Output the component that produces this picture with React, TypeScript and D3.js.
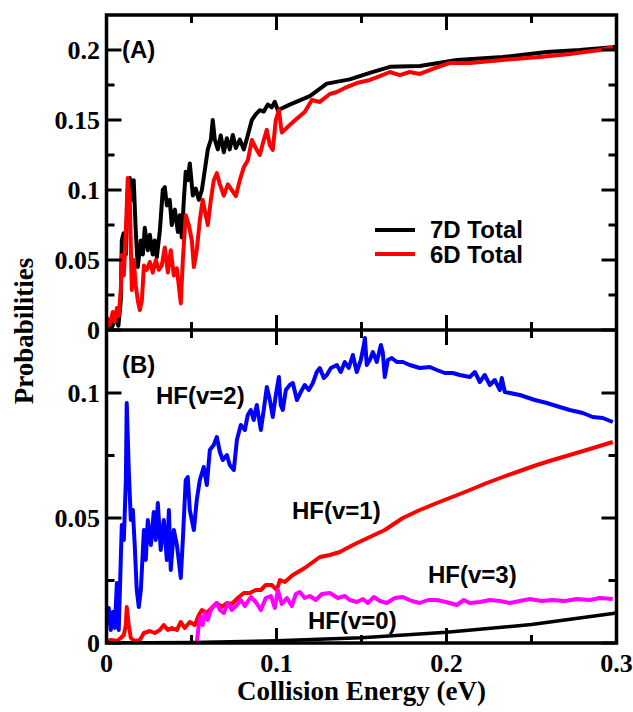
import React from "react";
import * as d3 from "d3";

// ---------- data (E in eV, probability) ----------
const total7D: [number, number][] = [
  [0.0002, 0.005], [0.003, 0.0015], [0.0055, 0.0086], [0.007, 0.003], [0.0084, 0.021], [0.009, 0.064],
  [0.010, 0.069], [0.0114, 0.054], [0.0125, 0.100], [0.0137, 0.1086], [0.0149, 0.093], [0.016, 0.107],
  [0.0172, 0.071], [0.0184, 0.045], [0.0202, 0.064], [0.0214, 0.054], [0.0225, 0.073], [0.0243, 0.057],
  [0.0255, 0.068], [0.0272, 0.054], [0.0284, 0.064], [0.0296, 0.052], [0.0314, 0.071], [0.0331, 0.100],
  [0.0343, 0.102], [0.0355, 0.089], [0.0372, 0.093], [0.0384, 0.075], [0.0402, 0.086], [0.042, 0.070],
  [0.0431, 0.082], [0.0443, 0.066], [0.0455, 0.093], [0.0466, 0.113], [0.0478, 0.107], [0.049, 0.119],
  [0.0508, 0.096], [0.0525, 0.101], [0.0543, 0.093], [0.0561, 0.100], [0.0578, 0.114], [0.0596, 0.129],
  [0.0614, 0.136], [0.0625, 0.150], [0.0637, 0.136], [0.0655, 0.129], [0.0672, 0.139], [0.069, 0.127],
  [0.0708, 0.137], [0.0725, 0.129], [0.0743, 0.1393], [0.0761, 0.130], [0.0784, 0.136], [0.0808, 0.129],
  [0.0831, 0.139], [0.0855, 0.150], [0.0878, 0.154], [0.0902, 0.157], [0.0925, 0.156], [0.0949, 0.161],
  [0.0972, 0.159], [0.099, 0.163], [0.1008, 0.157], [0.1078, 0.161], [0.1196, 0.167], [0.1296, 0.176],
  [0.1431, 0.179], [0.1549, 0.1836], [0.1667, 0.188], [0.1843, 0.1886], [0.2061, 0.1929], [0.2331, 0.195],
  [0.259, 0.1986], [0.2784, 0.200], [0.2978, 0.202], [0.3, 0.2025],
];

const total6D: [number, number][] = [
  [0.0002, 0.009], [0.0019, 0.0036], [0.0037, 0.0129], [0.0049, 0.0057], [0.0061, 0.0157], [0.0072, 0.01],
  [0.0084, 0.0286], [0.009, 0.0536], [0.0102, 0.039], [0.0114, 0.071], [0.0125, 0.1086], [0.0137, 0.093],
  [0.0149, 0.0286], [0.016, 0.05], [0.0172, 0.032], [0.0184, 0.021], [0.0196, 0.0143], [0.0208, 0.021],
  [0.022, 0.046], [0.0237, 0.043], [0.0255, 0.0486], [0.0272, 0.041], [0.029, 0.05], [0.0308, 0.043],
  [0.0325, 0.046], [0.0343, 0.059], [0.0361, 0.041], [0.0378, 0.057], [0.0396, 0.039], [0.0414, 0.044],
  [0.0425, 0.032], [0.0437, 0.019], [0.0449, 0.05], [0.0466, 0.082], [0.0484, 0.075], [0.0502, 0.064],
  [0.0514, 0.045], [0.0531, 0.057], [0.0549, 0.0786], [0.0566, 0.093], [0.0584, 0.082], [0.0596, 0.075],
  [0.0614, 0.093], [0.0631, 0.107], [0.0649, 0.112], [0.0667, 0.104], [0.069, 0.096], [0.0714, 0.104],
  [0.0737, 0.1], [0.0761, 0.0957], [0.0784, 0.107], [0.0808, 0.1164], [0.0831, 0.121], [0.0855, 0.1357],
  [0.0878, 0.13], [0.0902, 0.125], [0.0925, 0.1357], [0.0943, 0.143], [0.0961, 0.132], [0.0978, 0.1286],
  [0.0996, 0.15], [0.1014, 0.157], [0.1031, 0.141], [0.1078, 0.1464], [0.112, 0.151], [0.1166, 0.1557],
  [0.1208, 0.1643], [0.1255, 0.1629], [0.1314, 0.1686], [0.1355, 0.17], [0.1402, 0.1729], [0.1472, 0.1764],
  [0.1549, 0.1786], [0.1608, 0.1814], [0.1667, 0.1843], [0.1725, 0.1821], [0.1784, 0.1843], [0.1843, 0.1829],
  [0.1931, 0.1871], [0.2019, 0.1907], [0.2137, 0.1907], [0.2331, 0.1929], [0.2549, 0.195], [0.2725, 0.1971],
  [0.2902, 0.200], [0.2978, 0.202],
];

const hfV2: [number, number][] = [
  [0.0002, 0.0072], [0.0013, 0.014], [0.0025, 0.0052], [0.0037, 0.0124], [0.0049, 0.006], [0.0061, 0.024],
  [0.0072, 0.0052], [0.0084, 0.0332], [0.009, 0.0472], [0.0102, 0.0412], [0.0114, 0.0652], [0.0119, 0.096],
  [0.0131, 0.0692], [0.0143, 0.0492], [0.0155, 0.0532], [0.0166, 0.0392], [0.0178, 0.0212], [0.019, 0.0144],
  [0.0202, 0.0212], [0.022, 0.0452], [0.0231, 0.0332], [0.0243, 0.0492], [0.0261, 0.0392], [0.0278, 0.0524],
  [0.029, 0.0412], [0.0302, 0.056], [0.0319, 0.0372], [0.0337, 0.0492], [0.0355, 0.0332], [0.0367, 0.0532],
  [0.0378, 0.0292], [0.0396, 0.0452], [0.0414, 0.0392], [0.0425, 0.0332], [0.0437, 0.026], [0.0449, 0.0412],
  [0.0466, 0.0652], [0.0478, 0.0664], [0.049, 0.0532], [0.0502, 0.0492], [0.0514, 0.0452], [0.0531, 0.0572],
  [0.0549, 0.0652], [0.0572, 0.0704], [0.059, 0.0632], [0.0608, 0.0772], [0.0631, 0.0792], [0.0649, 0.0824],
  [0.0667, 0.0764], [0.0684, 0.0732], [0.0708, 0.0752], [0.0725, 0.0712], [0.0749, 0.0692], [0.0767, 0.0812],
  [0.079, 0.0872], [0.0814, 0.0852], [0.0831, 0.0912], [0.0849, 0.0932], [0.0866, 0.0892], [0.0884, 0.0952],
  [0.0908, 0.0852], [0.0925, 0.0932], [0.0943, 0.1024], [0.0961, 0.0972], [0.0978, 0.0904], [0.0996, 0.0992],
  [0.1014, 0.1064], [0.1025, 0.0952], [0.1037, 0.0932], [0.1055, 0.1012], [0.1078, 0.1032], [0.1096, 0.104],
  [0.112, 0.0972], [0.1143, 0.1004], [0.1166, 0.1032], [0.119, 0.1012], [0.1214, 0.104], [0.1237, 0.1084],
  [0.1255, 0.11], [0.1278, 0.106], [0.1296, 0.1072], [0.132, 0.11], [0.1355, 0.1112], [0.1378, 0.1084],
  [0.1402, 0.1124], [0.1425, 0.11], [0.1449, 0.1152], [0.1472, 0.1084], [0.1496, 0.1132], [0.1514, 0.1192],
  [0.152, 0.122], [0.1531, 0.1112], [0.1549, 0.1132], [0.1567, 0.1164], [0.159, 0.1124], [0.1614, 0.1192],
  [0.1625, 0.1164], [0.1637, 0.1064], [0.1655, 0.1132], [0.1678, 0.114], [0.1708, 0.1124], [0.1743, 0.1124],
  [0.1784, 0.1112], [0.1843, 0.11], [0.1902, 0.1104], [0.1943, 0.1092], [0.199, 0.108], [0.2037, 0.108],
  [0.2078, 0.1072], [0.2137, 0.1064], [0.2167, 0.1084], [0.2196, 0.1044], [0.2225, 0.1072], [0.2255, 0.1032],
  [0.2284, 0.1052], [0.2314, 0.1012], [0.2325, 0.106], [0.2343, 0.1004], [0.2431, 0.0992], [0.252, 0.0972],
  [0.259, 0.096], [0.2666, 0.0944], [0.2725, 0.0932], [0.2802, 0.092], [0.286, 0.0904], [0.2919, 0.09],
  [0.2978, 0.0884],
];

const hfV1: [number, number][] = [
  [0.0002, 0.0008], [0.003, 0.0012], [0.0061, 0.0008], [0.0084, 0.002], [0.0102, 0.0032], [0.0114, 0.0072],
  [0.0119, 0.0144], [0.0131, 0.0072], [0.0143, 0.002], [0.0166, 0.0008], [0.0196, 0.0012], [0.022, 0.004],
  [0.0255, 0.0048], [0.0284, 0.004], [0.0314, 0.0052], [0.0337, 0.0072], [0.0361, 0.0052], [0.0384, 0.006],
  [0.0414, 0.0052], [0.0437, 0.0084], [0.046, 0.006], [0.049, 0.0084], [0.052, 0.0072], [0.0543, 0.0112],
  [0.0561, 0.0132], [0.059, 0.012], [0.0619, 0.014], [0.0649, 0.016], [0.0678, 0.0144], [0.0708, 0.016],
  [0.0737, 0.0156], [0.0772, 0.018], [0.0808, 0.02], [0.0843, 0.02], [0.0878, 0.0212], [0.0908, 0.0212],
  [0.0937, 0.0232], [0.0972, 0.0232], [0.1002, 0.0212], [0.102, 0.0252], [0.1049, 0.0244], [0.1096, 0.0272],
  [0.1166, 0.03], [0.1255, 0.0344], [0.1314, 0.0352], [0.1372, 0.0364], [0.1461, 0.0396], [0.1549, 0.0424],
  [0.1637, 0.0452], [0.1743, 0.05], [0.1843, 0.0532], [0.1943, 0.056], [0.2049, 0.0588], [0.2137, 0.0612],
  [0.2237, 0.064], [0.2331, 0.0664], [0.2431, 0.0688], [0.2531, 0.0712], [0.2625, 0.0732], [0.2725, 0.0752],
  [0.2843, 0.0776], [0.2978, 0.0804],
];

const hfV3: [number, number][] = [
  [0.0531, 0], [0.0543, 0.0072], [0.0555, 0.0104], [0.0566, 0.0072], [0.0578, 0.012], [0.0596, 0.0092],
  [0.0614, 0.0132], [0.0631, 0.0148], [0.0649, 0.016], [0.0667, 0.0132], [0.069, 0.012], [0.0714, 0.016],
  [0.0737, 0.0132], [0.0767, 0.0152], [0.079, 0.0172], [0.0814, 0.0148], [0.0849, 0.0184], [0.0878, 0.0164],
  [0.0908, 0.0132], [0.0937, 0.018], [0.0967, 0.0188], [0.099, 0.014], [0.1008, 0.0212], [0.1031, 0.0156],
  [0.1061, 0.018], [0.109, 0.0148], [0.1114, 0.0196], [0.1137, 0.0204], [0.1166, 0.018], [0.1196, 0.0188],
  [0.1231, 0.0172], [0.1267, 0.0196], [0.1314, 0.02], [0.1361, 0.018], [0.1402, 0.0188], [0.1431, 0.0172],
  [0.1472, 0.0164], [0.1508, 0.0176], [0.1537, 0.016], [0.1573, 0.0184], [0.1608, 0.0168], [0.1649, 0.016],
  [0.1696, 0.018], [0.1743, 0.0184], [0.1796, 0.0168], [0.1843, 0.016], [0.189, 0.0172], [0.1943, 0.0172],
  [0.1996, 0.0164], [0.2061, 0.0152], [0.2102, 0.0172], [0.2137, 0.016], [0.2196, 0.0164], [0.2255, 0.0172],
  [0.2314, 0.0168], [0.2372, 0.016], [0.2431, 0.0168], [0.249, 0.0176], [0.256, 0.0168], [0.2625, 0.0172],
  [0.2696, 0.0168], [0.2766, 0.0176], [0.2843, 0.0172], [0.2902, 0.018], [0.2978, 0.0176],
];

const hfV0: [number, number][] = [
  [0.0, 0.0], [0.05, 0.0002], [0.1, 0.0009], [0.15, 0.0021], [0.2, 0.0043], [0.25, 0.0074], [0.3, 0.012],
];

const xMajor = [0, 0.1, 0.2, 0.3];
const xMinor = [0.05, 0.15, 0.25];
const xTickLabels = ["0", "0.1", "0.2", "0.3"];
const yMajorA = [0, 0.05, 0.1, 0.15, 0.2];
const yMinorA = [0.025, 0.075, 0.125, 0.175];
const yTickLabelsA = ["0", "0.05", "0.1", "0.15", "0.2"];
const yMajorB = [0, 0.05, 0.1];
const yMinorB = [0.025, 0.075];
const yTickLabelsB = ["0", "0.05", "0.1"];

// ---------- layout ----------
const W = 633, H = 712;
const L = 106.5, R = 616.5;
const topA = 15, botA = 330, botB = 643;
const MAJ = 15, MIN = 8;
const AX = 3.5;
const LW = 4;

export default function App() {
  const x = d3.scaleLinear().domain([0, 0.3]).range([L, R]);
  const yA = d3.scaleLinear().domain([0, 0.225]).range([botA, topA]);
  const yB = d3.scaleLinear().domain([0, 0.1252]).range([botB, botA]);

  const lineA = d3.line<[number, number]>().x(d => x(d[0])).y(d => yA(d[1]));
  const lineB = d3.line<[number, number]>().x(d => x(d[0])).y(d => yB(d[1]));

  const serif = "'Liberation Serif', 'Times New Roman', serif";
  const sans = "'Liberation Sans', Arial, sans-serif";

  const ticks: JSX.Element[] = [];
  let k = 0;
  const xRows: [number, number][] = [[topA, 1], [botA, -1], [botA, 1], [botB, -1]];
  xRows.forEach(([yy, dir]) => {
    xMajor.forEach(v => ticks.push(<line key={k++} x1={x(v)} x2={x(v)} y1={yy} y2={yy + dir * MAJ} stroke="#000" strokeWidth={3} />));
    xMinor.forEach(v => ticks.push(<line key={k++} x1={x(v)} x2={x(v)} y1={yy} y2={yy + dir * MIN} stroke="#000" strokeWidth={3} />));
  });
  const yTicks = (scale: d3.ScaleLinear<number, number>, maj: number[], min: number[]) => {
    maj.forEach(v => {
      ticks.push(<line key={k++} x1={L} x2={L + MAJ} y1={scale(v)} y2={scale(v)} stroke="#000" strokeWidth={3} />);
      ticks.push(<line key={k++} x1={R} x2={R - MAJ} y1={scale(v)} y2={scale(v)} stroke="#000" strokeWidth={3} />);
    });
    min.forEach(v => {
      ticks.push(<line key={k++} x1={L} x2={L + MIN} y1={scale(v)} y2={scale(v)} stroke="#000" strokeWidth={3} />);
      ticks.push(<line key={k++} x1={R} x2={R - MIN} y1={scale(v)} y2={scale(v)} stroke="#000" strokeWidth={3} />);
    });
  };
  yTicks(yA, yMajorA, yMinorA);
  yTicks(yB, yMajorB, yMinorB);

  const tickFont = { fontFamily: serif, fontWeight: 700, fontSize: 26 } as const;
  const labFont = { fontFamily: sans, fontWeight: 700, fontSize: 24 } as const;

  return (
    <svg width={W} height={H} style={{ position: "absolute", left: 0, top: 0, background: "#fff" }}>
      <rect x={0} y={0} width={W} height={H} fill="#fff" />
      <defs>
        <clipPath id="clipA"><rect x={L} y={topA} width={R - L} height={botA - topA} /></clipPath>
        <clipPath id="clipB"><rect x={L} y={botA} width={R - L} height={botB - botA} /></clipPath>
      </defs>

      <g clipPath="url(#clipA)" fill="none" strokeLinejoin="round">
        <path d={lineA(total7D) || ""} stroke="#000" strokeWidth={LW} />
        <path d={lineA(total6D) || ""} stroke="#ff0000" strokeWidth={LW} />
      </g>

      <g clipPath="url(#clipB)" fill="none" strokeLinejoin="round">
        <path d={lineB(hfV0) || ""} stroke="#000" strokeWidth={3.5} />
        <path d={lineB(hfV1) || ""} stroke="#ff0000" strokeWidth={LW} />
        <path d={lineB(hfV2) || ""} stroke="#0000ff" strokeWidth={LW} />
        <path d={lineB(hfV3) || ""} stroke="#ff00ff" strokeWidth={LW} />
      </g>

      <rect x={L} y={topA} width={R - L} height={botB - topA} fill="none" stroke="#000" strokeWidth={AX} />
      <line x1={L} x2={R} y1={botA} y2={botA} stroke="#000" strokeWidth={AX} />
      {ticks}

      {yMajorA.map((v, i) => (
        <text key={"ya" + i} x={100} y={yA(v) + 9} textAnchor="end" {...tickFont}>{yTickLabelsA[i]}</text>
      ))}
      {yMajorB.map((v, i) => (
        <text key={"yb" + i} x={100} y={yB(v) + 9} textAnchor="end" {...tickFont}>{yTickLabelsB[i]}</text>
      ))}
      {xMajor.map((v, i) => (
        <text key={"x" + i} x={x(v)} y={672} textAnchor="middle" {...tickFont}>{xTickLabels[i]}</text>
      ))}

      <text x={(L + R) / 2} y={700} textAnchor="middle" fontFamily={serif} fontWeight={700} fontSize={27}>Collision Energy (eV)</text>
      <text transform={`translate(33, 331) rotate(-90)`} textAnchor="middle" fontFamily={serif} fontWeight={700} fontSize={27}>Probabilities</text>

      <text x={122} y={58} {...labFont}>(A)</text>
      <text x={122} y={373} {...labFont}>(B)</text>
      <text x={156} y={404} {...labFont}>HF(v=2)</text>
      <text x={292} y={519} {...labFont}>HF(v=1)</text>
      <text x={428} y={583} {...labFont}>HF(v=3)</text>
      <text x={308} y={629} {...labFont}>HF(v=0)</text>

      <line x1={375} x2={415} y1={230} y2={230} stroke="#000" strokeWidth={LW} />
      <line x1={375} x2={415} y1={254} y2={254} stroke="#ff0000" strokeWidth={LW} />
      <text x={430} y={238} {...labFont}>7D Total</text>
      <text x={430} y={263} {...labFont}>6D Total</text>
    </svg>
  );
}
